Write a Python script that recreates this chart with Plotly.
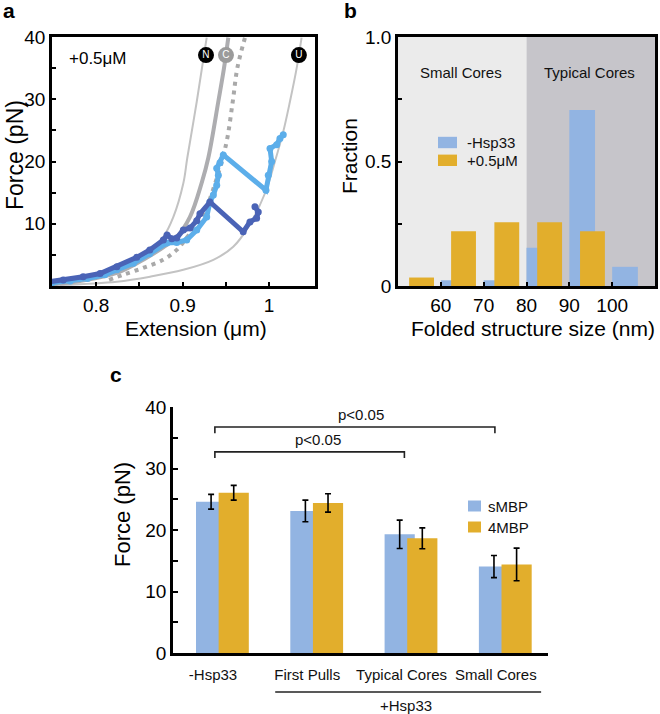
import plotly.graph_objects as go

W, H = 660, 714
FONT = "Liberation Sans, Arial, sans-serif"

# ---------------- Panel a data ----------------
N_x = [0.749, 0.776, 0.8162, 0.8393, 0.8624, 0.8777, 0.8893, 0.9008, 0.9054, 0.9163, 0.9278]
N_f = [0.3, 0.8, 2.1, 3.7, 5.8, 7.9, 11.1, 16.5, 20.6, 29.6, 39.9]
C_x = [0.749, 0.7815, 0.8239, 0.8543, 0.8932, 0.9085, 0.9221, 0.9297, 0.9412, 0.9478, 0.9528]
C_f = [0.25, 0.8, 2.1, 4.2, 7.9, 11.1, 16.6, 20.6, 29.6, 35.0, 39.9]
D_x = [0.815, 0.8312, 0.8543, 0.8774, 0.8932, 0.9028, 0.9236, 0.935, 0.9501, 0.9579, 0.9632, 0.9721]
D_f = [1.0, 1.8, 2.9, 4.2, 5.8, 7.4, 11.4, 15.4, 22.7, 29.6, 35.0, 39.9]
U_x = [0.758, 0.8239, 0.8624, 0.9008, 0.9355, 0.9585, 0.9759, 0.9952, 1.0067, 1.0163, 1.024, 1.0318, 1.0375]
U_f = [0.15, 0.7, 1.5, 2.6, 4.2, 6.3, 9.5, 14.9, 20.0, 24.8, 29.6, 35.0, 39.9]

light_x = [0.749, 0.77, 0.79, 0.81, 0.824, 0.843, 0.862, 0.8816, 0.8932, 0.9047, 0.9163, 0.9278,
           0.9316, 0.9355, 0.9394, 0.9413, 0.9394, 0.9432, 0.947, 0.9963, 0.999, 1.0029, 1.001,
           1.0087, 1.0125, 1.0163]
light_f = [0.5, 0.8, 1.2, 1.8, 2.6, 3.65, 5.2, 6.9, 7.0, 7.4, 9.0, 11.1,
           13.5, 14.6, 16.2, 17.8, 18.9, 19.8, 21.06, 15.4, 17.8, 20.0, 22.1,
           22.7, 23.7, 24.3]
dark_x = [0.747, 0.762, 0.785, 0.8046, 0.824, 0.847, 0.862, 0.8777, 0.882, 0.8875, 0.8932, 0.9008,
          0.9085, 0.9163, 0.920, 0.9316, 0.970, 0.9778, 0.9855, 0.9874, 0.9836]
dark_f = [0.7, 0.96, 1.5, 2.0, 3.1, 4.6, 5.8, 7.4, 8.2, 7.6, 7.7, 9.0,
          9.3, 10.5, 11.6, 13.5, 8.7, 10.3, 10.9, 11.9, 12.75]

state_labels = ["N", "C", "U"]
state_x = [0.927, 0.9501, 1.0344]
state_f = [37.1, 37.1, 37.1]
state_colors = ["black", "#9b9b9b", "black"]

# ---------------- Panel b data ----------------
b_blue_x = [63, 73, 83, 93, 103]
b_blue_y = [0.023, 0.023, 0.154, 0.707, 0.077]
b_orange_x = [55.5, 65.3, 75.4, 85.4, 95.4]
b_orange_y = [0.034, 0.22, 0.256, 0.256, 0.22]
b_regions = [("Small Cores", 50, 80, "#ebebeb"), ("Typical Cores", 80, 110, "#c6c5ca")]
b_legend = ["-Hsp33", "+0.5\u03bcM"]

# ---------------- Panel c data ----------------
c_categories = ["-Hsp33", "First Pulls", "Typical Cores", "Small Cores"]
c_smbp = [24.6, 23.1, 19.3, 14.05]
c_smbp_err = [1.2, 1.75, 2.3, 1.8]
c_4mbp = [26.05, 24.4, 18.65, 14.4]
c_4mbp_err = [1.2, 1.5, 1.7, 2.65]
c_legend = ["sMBP", "4MBP"]
# brackets: (from, to, level, drop, label x)
c_brackets = [(0.02, 2.03, 32.7, 1.0, 1.11), (0.02, 2.99, 36.75, 1.0, 1.57)]
c_group = ("+Hsp33", 0.66, 3.48)

BLUE = "#92b4e2"
ORANGE = "#e2ae2c"
LIGHT = "#5caeea"
DARK = "#4a63b6"


def px_x(p):
    return p / W


def px_y(p):
    return 1 - p / H


def note(text, x, y, size, xanchor="center", yanchor="middle", angle=0, color="black", xref="paper",
         yref="paper"):
    return dict(text=text, xref=xref, yref=yref, x=x, y=y, xanchor=xanchor, yanchor=yanchor,
                textangle=angle, showarrow=False, font=dict(size=size, family=FONT, color=color))


fig = go.Figure()

# ---- panel a traces ----
fig.add_trace(go.Scatter(x=N_x, y=N_f, mode="lines", line=dict(color="#c3c3c3", width=2, shape="spline"),
                         xaxis="x", yaxis="y", showlegend=False))
fig.add_trace(go.Scatter(x=U_x, y=U_f, mode="lines", line=dict(color="#c3c3c3", width=2, shape="spline"),
                         xaxis="x", yaxis="y", showlegend=False))
fig.add_trace(go.Scatter(x=C_x, y=C_f, mode="lines", line=dict(color="#adadb0", width=4, shape="spline"),
                         xaxis="x", yaxis="y", showlegend=False))
fig.add_trace(go.Scatter(x=D_x, y=D_f, mode="lines",
                         line=dict(color="#a9a9a9", width=4, shape="spline", dash="4px,5px"),
                         xaxis="x", yaxis="y", showlegend=False))
fig.add_trace(go.Scatter(x=light_x, y=light_f, mode="lines+markers",
                         line=dict(color=LIGHT, width=5), marker=dict(color=LIGHT, size=7),
                         xaxis="x", yaxis="y", showlegend=False))
fig.add_trace(go.Scatter(x=dark_x, y=dark_f, mode="lines+markers",
                         line=dict(color=DARK, width=5), marker=dict(color=DARK, size=7),
                         xaxis="x", yaxis="y", showlegend=False))
fig.add_trace(go.Scatter(x=state_x, y=state_f, mode="markers+text", text=state_labels,
                         textposition="middle center",
                         textfont=dict(color="white", size=10, family=FONT),
                         marker=dict(color=state_colors, size=16),
                         xaxis="x", yaxis="y", showlegend=False, cliponaxis=False))

# ---- panel b traces ----
fig.add_trace(go.Bar(x=b_blue_x, y=b_blue_y, width=6, marker=dict(color=BLUE, line=dict(width=0)),
                     xaxis="x2", yaxis="y2", showlegend=False))
fig.add_trace(go.Bar(x=b_orange_x, y=b_orange_y, width=5.8, marker=dict(color=ORANGE, line=dict(width=0)),
                     xaxis="x2", yaxis="y2", showlegend=False))

# ---- panel c traces ----
cx = list(range(len(c_categories)))
fig.add_trace(go.Bar(x=[i - 0.02 for i in cx], y=c_smbp, width=0.32,
                     marker=dict(color=BLUE, line=dict(width=0)),
                     error_y=dict(type="data", array=c_smbp_err, color="black", thickness=1.6, width=3),
                     xaxis="x3", yaxis="y3", showlegend=False))
fig.add_trace(go.Bar(x=[i + 0.22 for i in cx], y=c_4mbp, width=0.32,
                     marker=dict(color=ORANGE, line=dict(width=0)),
                     error_y=dict(type="data", array=c_4mbp_err, color="black", thickness=1.6, width=3),
                     xaxis="x3", yaxis="y3", showlegend=False))

shapes = []
annotations = []

# panel b background regions + labels
for name, x0, x1, col in b_regions:
    shapes.append(dict(type="rect", xref="x2", yref="y2", x0=x0, x1=x1, y0=0, y1=1,
                       fillcolor=col, line=dict(width=0), layer="below"))
    annotations.append(note(name, (x0 + x1) / 2 - 0.4, px_y(73), 15, color="#111", xref="x2"))

# panel b legend
for i, (lab, col) in enumerate(zip(b_legend, [BLUE, ORANGE])):
    yc = [142.5, 160.3][i]
    shapes.append(dict(type="rect", xref="paper", yref="paper", x0=px_x(438), x1=px_x(457),
                       y0=px_y(yc + 5.7), y1=px_y(yc - 5.7), fillcolor=col, line=dict(width=0)))
    annotations.append(note(lab, px_x(465), px_y(yc), 15, xanchor="left", color="#111"))

# panel c legend
for i, (lab, col) in enumerate(zip(c_legend, [BLUE, ORANGE])):
    yc = [506, 527][i]
    shapes.append(dict(type="rect", xref="paper", yref="paper", x0=px_x(468), x1=px_x(481),
                       y0=px_y(yc + 5.5), y1=px_y(yc - 5.5), fillcolor=col, line=dict(width=0)))
    annotations.append(note(lab, px_x(486), px_y(yc), 15, xanchor="left", color="#111"))

# panel c brackets
for x0, x1, lev, drop, tx in c_brackets:
    shapes.append(dict(type="path", xref="x3", yref="y3",
                       path=f"M {x0},{lev - drop} L {x0},{lev} L {x1},{lev} L {x1},{lev - drop}",
                       line=dict(color="#222", width=1.6)))
    annotations.append(note("p<0.05", tx, lev + 0.3, 15, yanchor="bottom", color="#111",
                            xref="x3", yref="y3"))

# panel c group line
gname, g0, g1 = c_group
shapes.append(dict(type="line", xref="x3", yref="paper", x0=g0, x1=g1, y0=px_y(692), y1=px_y(692),
                   line=dict(color="#222", width=1.3)))
annotations.append(note(gname, (g0 + g1) / 2 - 0.02, px_y(705), 15, color="#111", xref="x3"))

# panel a text
annotations.append(note("+0.5\u03bcM", px_x(67), px_y(58), 17, xanchor="left"))

# axis titles and panel letters
annotations += [
    note("Force (pN)", px_x(15), px_y(155), 23, angle=-90),
    note("Extension (\u03bcm)", px_x(196), px_y(329), 21),
    note("Fraction", px_x(349), px_y(156), 21, angle=-90),
    note("Folded structure size (nm)", px_x(533), px_y(329), 21),
    note("Force (pN)", px_x(122), px_y(515), 22, angle=-90),
    note("<b>a</b>", px_x(9), px_y(11), 21),
    note("<b>b</b>", px_x(350), px_y(11), 21),
    note("<b>c</b>", px_x(116), px_y(374), 21),
]

box_axis = dict(showline=True, mirror=True, linecolor="black", linewidth=2.5, ticks="inside",
                ticklen=4, tickwidth=2, tickcolor="black", showgrid=False, zeroline=False,
                automargin=False, tickfont=dict(size=19, family=FONT, color="black"))

fig.update_layout(
    width=W, height=H, margin=dict(l=0, r=0, t=0, b=0, pad=0, autoexpand=False),
    paper_bgcolor="white", plot_bgcolor="rgba(0,0,0,0)",
    barmode="overlay", showlegend=False,
    font=dict(family=FONT, color="black"),
    xaxis=dict(domain=[px_x(52), px_x(315)], range=[0.749, 1.053], anchor="y",
               tickvals=[0.8, 0.85, 0.9, 0.95, 1.0], ticktext=["0.8", "", "0.9", "", "1"], **box_axis),
    yaxis=dict(domain=[px_y(286), px_y(37)], range=[0, 40], anchor="x",
               tickvals=[5, 10, 15, 20, 25, 30, 35, 40], ticktext=["", "10", "", "20", "", "30", "", "40"],
               **box_axis),
    xaxis2=dict(domain=[px_x(398), px_x(655)], range=[50, 110], anchor="y2",
                tickvals=[60, 70, 80, 90, 100], **box_axis),
    yaxis2=dict(domain=[px_y(286), px_y(37)], range=[0, 1], anchor="x2",
                tickvals=[0, 0.25, 0.5, 0.75, 1.0], ticktext=["0", "", "0.5", "", "1.0"], **box_axis),
    xaxis3=dict(domain=[px_x(173), px_x(548)], range=[-0.424, 3.553], anchor="y3",
                showline=True, linecolor="black", linewidth=2.5, ticks="", showgrid=False, zeroline=False,
                automargin=False, ticklabelstandoff=6,
                tickvals=cx, ticktext=c_categories, tickfont=dict(size=15, family=FONT, color="#111")),
    yaxis3=dict(domain=[px_y(653), px_y(407)], range=[0, 40], anchor="x3",
                showline=True, linecolor="black", linewidth=2.5, ticks="inside", ticklen=5, tickwidth=2,
                tickcolor="black", showgrid=False, zeroline=False, automargin=False,
                tickvals=[0, 5, 10, 15, 20, 25, 30, 35, 40],
                ticktext=["0", "", "10", "", "20", "", "30", "", "40"],
                tickfont=dict(size=19, family=FONT, color="black")),
    shapes=shapes, annotations=annotations,
)

fig.write_html("out.html", config={"displayModeBar": False},
               post_script="document.body.style.margin='0';document.body.style.overflow='hidden';")
